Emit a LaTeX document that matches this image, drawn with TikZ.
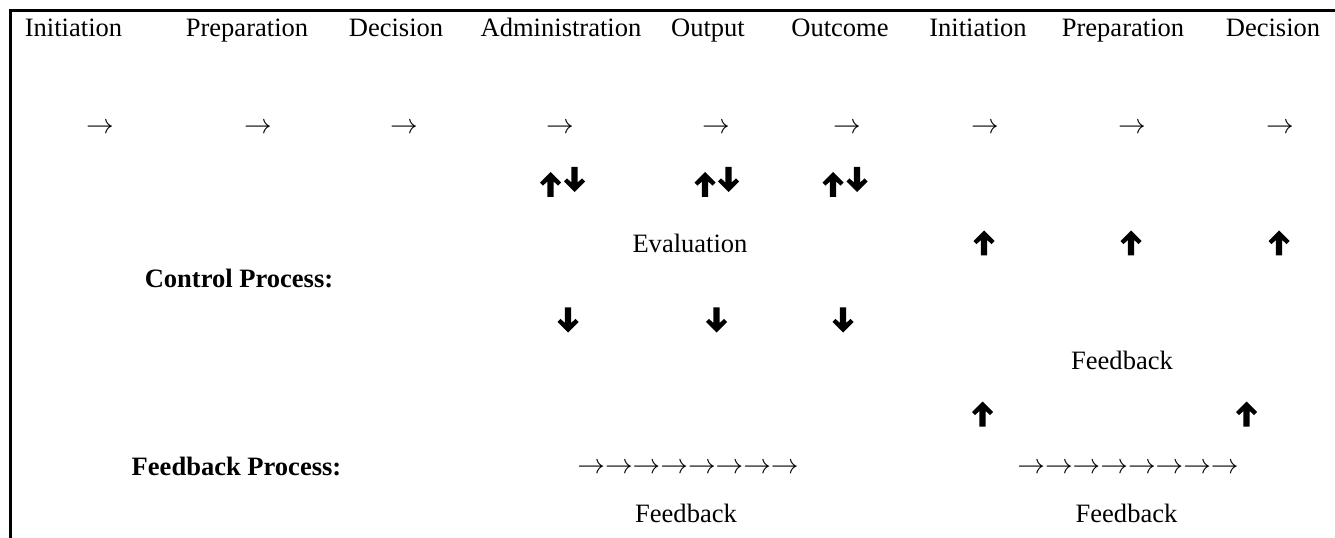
\documentclass[tikz,border=0pt]{standalone}
\usepackage{fontspec}
\setmainfont{Liberation Serif}
\newcommand{\flowarr}{\ensuremath{\rightarrow}}
\begin{document}
\begin{tikzpicture}[x=0.75pt,y=-0.75pt,
  every node/.style={inner sep=0pt,outer sep=0pt,font=\fontsize{19.9pt}{24pt}\selectfont},
  lbl/.style={anchor=base},
  head/.style={anchor=base},
  bold/.style={anchor=base,font=\fontsize{19.9pt}{24pt}\selectfont\bfseries},
  thin/.style={anchor=center},
  uparr/.pic={\fill (0,-12.5)--(10.5,-2)--(7.5,1.2)--(3.2,-3)--(3.2,12.5)--(-3.2,12.5)--(-3.2,-3)--(-7.5,1.2)--(-10.5,-2)--cycle;},
  dnarr/.pic={\fill (0,12.5)--(10.5,2)--(7.5,-1.2)--(3.2,3)--(3.2,-12.5)--(-3.2,-12.5)--(-3.2,3)--(-7.5,-1.2)--(-10.5,2)--cycle;}
]
\useasboundingbox (0,0) rectangle (1335,538);

% frame on the left and top
\coordinate (fb) at (10,538);
\coordinate (fc) at (10,11);
\coordinate (fr) at (1335,11);
\draw[line width=2.25pt] (fb) -- (fc) -- (fr);

% stage headings
\node[head] (h1) at (73.5,37) {Initiation};
\node[head] (h2) at (247,37) {Preparation};
\node[head] (h3) at (396,37) {Decision};
\node[head] (h4) at (561,37) {Administration};
\node[head] (h5) at (708,37) {Output};
\node[head] (h6) at (840,37) {Outcome};
\node[head] (h7) at (978,37) {Initiation};
\node[head] (h8) at (1123,37) {Preparation};
\node[head] (h9) at (1273,37) {Decision};

% flow arrows under the headings
\node[thin] (a1) at (100,128) {\flowarr};
\node[thin] (a2) at (258,128) {\flowarr};
\node[thin] (a3) at (404,128) {\flowarr};
\node[thin] (a4) at (560,128) {\flowarr};
\node[thin] (a5) at (716,128) {\flowarr};
\node[thin] (a6) at (847,128) {\flowarr};
\node[thin] (a7) at (985,128) {\flowarr};
\node[thin] (a8) at (1132,128) {\flowarr};
\node[thin] (a9) at (1280,128) {\flowarr};

% up/down pairs
\pic (p1u) at (550.5,184.5) {uparr};
\pic (p1d) at (574.5,179.5) {dnarr};
\pic (p2u) at (705,184.5) {uparr};
\pic (p2d) at (728.5,179.5) {dnarr};
\pic (p3u) at (833,184.5) {uparr};
\pic (p3d) at (857,179.5) {dnarr};

% evaluation
\node[lbl] (ev) at (690,253) {Evaluation};
\pic (e1) at (984,243) {uparr};
\pic (e2) at (1131,243) {uparr};
\pic (e3) at (1279,243) {uparr};

\node[bold] (cp) at (239,287) {Control Process:};

\pic (d1) at (568,320) {dnarr};
\pic (d2) at (716.5,320) {dnarr};
\pic (d3) at (843,320) {dnarr};

\node[lbl] (fb1) at (1122,369) {Feedback};
\pic (f1) at (982.5,414) {uparr};
\pic (f2) at (1246.5,414) {uparr};

% feedback process
\node[bold] (fp) at (236.5,475) {Feedback Process:};
\node[thin] (r1) at (688,468) {\flowarr\flowarr\flowarr\flowarr\flowarr\flowarr\flowarr\flowarr};
\node[thin] (r2) at (1128,468) {\flowarr\flowarr\flowarr\flowarr\flowarr\flowarr\flowarr\flowarr};
\node[lbl] (fb2) at (686,522) {Feedback};
\node[lbl] (fb3) at (1126.5,522) {Feedback};
\end{tikzpicture}
\end{document}
